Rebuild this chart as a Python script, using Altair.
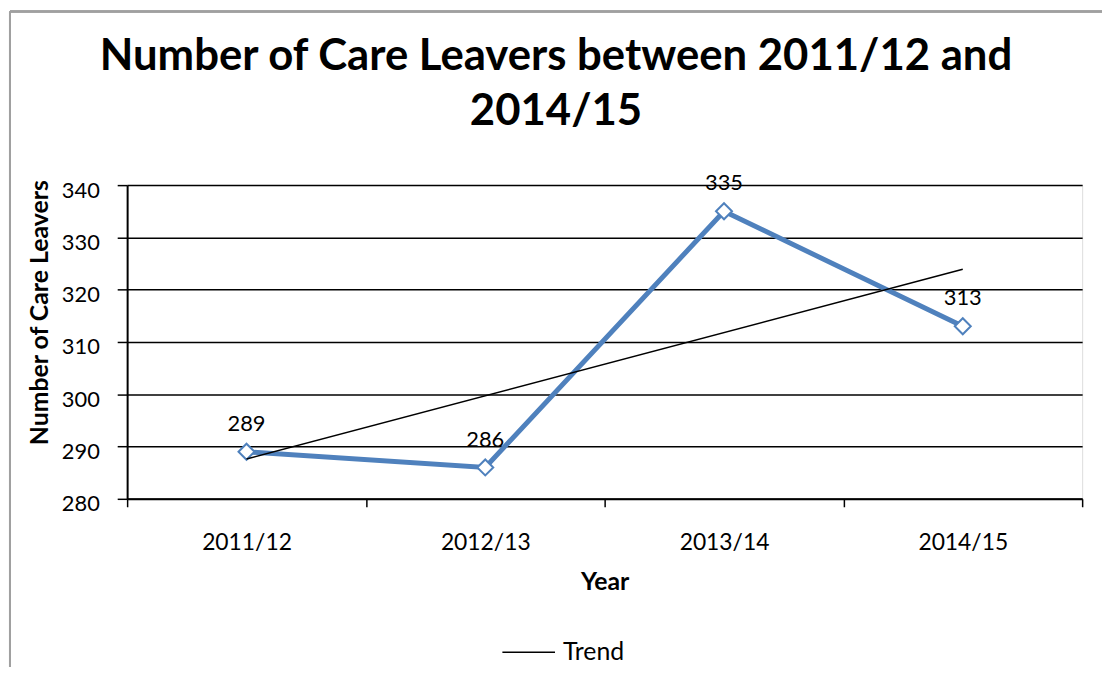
import altair as alt
import pandas as pd

years = ["2011/12", "2012/13", "2013/14", "2014/15"]
leavers = [289, 286, 335, 313]
y_ticks = [280, 290, 300, 310, 320, 330, 340]
title_lines = ["Number of Care Leavers between 2011/12 and", "2014/15"]

df = pd.DataFrame({"year": years, "idx": list(range(len(years))), "value": leavers})
title_df = pd.DataFrame({"t": ["\n".join(title_lines)]})

FONT = "Lato"
BLUE = "#4F81BD"
W, H = 962, 316
PL, PT = 120, 176

xenc = alt.X(
    "year:N",
    sort=years,
    scale=alt.Scale(type="band", paddingInner=0, paddingOuter=0),
    axis=alt.Axis(
        title="Year", titleFont=FONT, titleFontSize=25, titleFontWeight="bold",
        titleColor="black", titlePadding=15,
        labelFont=FONT, labelFontSize=23, labelColor="black", labelAngle=0,
        labelPadding=25, tickBand="extent", tickSize=8, tickColor="black",
        tickWidth=1.5, domainColor="black", domainWidth=2, grid=False,
    ),
)
yenc = alt.Y(
    "value:Q",
    scale=alt.Scale(domain=[280, 340], nice=False, zero=False),
    axis=alt.Axis(
        values=y_ticks, title="Number of Care Leavers", titleFont=FONT,
        titleFontSize=25, titleFontWeight="bold", titleColor="black",
        titleX=-88, titleY=128, titleAngle=-90, titleBaseline="middle",
        labelFont=FONT, labelFontSize=22, labelColor="black", labelPadding=18,
        labelOffset=5,
        tickSize=10, tickColor="black", tickWidth=1.5, domainColor="black",
        domainWidth=2, grid=True, gridColor="black", gridWidth=1.5, gridOpacity=1,
    ),
)

base = alt.Chart(df)

line = base.mark_line(color=BLUE, strokeWidth=5).encode(x=xenc, y=yenc)
pts = base.mark_point(
    shape="diamond", filled=True, fill="white", stroke=BLUE, strokeWidth=2,
    size=260, opacity=1,
).encode(x=xenc, y=yenc)

trend = (
    base.transform_regression("idx", "value")
    .transform_lookup(lookup="idx", from_=alt.LookupData(df, "idx", ["year"]))
    .transform_calculate(series="'Trend'")
    .mark_line(strokeWidth=1.5)
    .encode(
        x=alt.X("year:N", sort=years),
        y=alt.Y("value:Q"),
        color=alt.Color(
            "series:N",
            scale=alt.Scale(range=["black"]),
            legend=alt.Legend(
                title=None, orient="none", legendX=377, legendY=443,
                symbolType="stroke", symbolSize=2809, symbolStrokeWidth=1.5,
                labelFont=FONT, labelFontSize=25, labelColor="black",
                labelOffset=7,
            ),
        ),
    )
)

labels = base.mark_text(
    font=FONT, fontSize=22, color="black", dy=-28, baseline="middle"
).encode(x=xenc, y=yenc, text="value:Q")

title = alt.Chart(title_df).mark_text(
    font=FONT, fontSize=44, fontWeight="bold", color="black", align="center",
    baseline="alphabetic", lineBreak="\n", lineHeight=55, clip=False,
).encode(x=alt.value(432), y=alt.value(-116), text="t:N")

frame_v = alt.Chart(df).mark_rule(color="#a0a0a0", strokeWidth=2, clip=False).encode(
    x=alt.value(-118), y=alt.value(-175), y2=alt.value(500)
)
frame_h = alt.Chart(df).mark_rule(color="#a0a0a0", strokeWidth=2, clip=False).encode(
    x=alt.value(-118), x2=alt.value(1000), y=alt.value(-175)
)

chart = (
    alt.layer(frame_v, frame_h, line, pts, trend, labels, title)
    .properties(
        width=W,
        height=H,
        autosize=alt.AutoSizeParams(type="none"),
        padding={"left": PL, "top": PT, "right": 20, "bottom": 167},
    )
    .configure_view(stroke=None)
    .configure(background="white")
)

chart.save("out.html", embed_options={"renderer": "svg", "actions": False})
